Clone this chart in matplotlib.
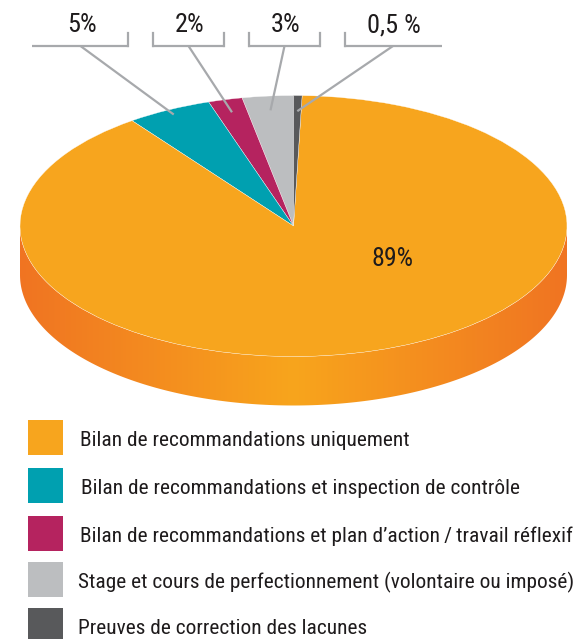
import matplotlib
matplotlib.use("Agg")
import numpy as np
import matplotlib.pyplot as plt
from matplotlib import font_manager
from matplotlib.patches import Wedge, Polygon, Rectangle
from matplotlib.transforms import Affine2D
from matplotlib.colors import to_rgb

# ---------------- data ----------------
categories = [
    "Bilan de recommandations uniquement",
    "Bilan de recommandations et inspection de contrôle",
    "Bilan de recommandations et plan d\u2019action\u2009/\u2009travail réflexif",
    "Stage et cours de perfectionnement (volontaire ou imposé)",
    "Preuves de correction des lacunes",
]
values = [89, 5, 2, 3, 0.5]
value_labels = ["89%", "5%", "2%", "3%", "0,5 %"]
colors = ["#F7A51E", "#00A0B0", "#B5235F", "#BCBEC0", "#58595B"]
# slices laid counter-clockwise starting at 12 o'clock
ccw_order = [3, 2, 1, 0, 4]

# ---------------- fonts (prefer a condensed sans) ----------------
entries = font_manager.fontManager.ttflist
names = {f.name for f in entries}
STRETCH = "normal"
FAM = None
for cand in ["Liberation Sans Narrow", "Roboto Condensed", "Open Sans Condensed",
             "DejaVu Sans Condensed", "Noto Sans Condensed", "Arial Narrow"]:
    if cand in names:
        FAM = cand
        break
if FAM is None:
    for f in entries:
        st = str(f.stretch).lower()
        if f.name in ("DejaVu Sans", "Noto Sans", "Open Sans", "Roboto") and (
                "condensed" in st or st in ("75", "87.5", "62.5")) and f.weight in (400, "normal", "regular"):
            FAM = f.name
            STRETCH = "condensed"
            break
if FAM is None:
    FAM = "Liberation Sans"
plt.rcParams["font.family"] = [FAM, "DejaVu Sans"]
plt.rcParams["font.stretch"] = STRETCH
TXT = "#1E1B1C"
LINE = "#A7A9AC"

# ---------------- layout ----------------
W, H = 579, 639
cx, cy, rx, ry, depth = 293.5, 226.0, 273.5, 130.5, 49.0

fig = plt.figure(figsize=(W / 100, H / 100), dpi=100)
ax = fig.add_axes([0, 0, 1, 1])
ax.set_xlim(0, W)
ax.set_ylim(H, 0)
ax.axis("off")
renderer = fig.canvas.get_renderer()

def fit(txt, target_w, max_size):
    w = txt.get_window_extent(renderer).width
    size = txt.get_fontsize() * target_w / w
    txt.set_fontsize(min(size, max_size))
    return txt.get_fontsize()

unit = Affine2D().scale(rx, -ry).translate(cx, cy) + ax.transData

def ell(t, r=1.0, dz=0.0):
    t = np.radians(t)
    return cx + r * rx * np.cos(t), cy - r * ry * np.sin(t) + dz

# side band (front half) with horizontal gradient
t = np.linspace(180, 360, 200)
xs_top, ys_top = ell(t)
xs_bot, ys_bot = ell(t[::-1], dz=depth)
side = Polygon(np.column_stack([np.r_[xs_top, xs_bot], np.r_[ys_top, ys_bot]]),
               closed=True, facecolor="none", edgecolor="none")
ax.add_patch(side)
light = np.array(to_rgb("#F8A51C"))
dark = np.array(to_rgb("#F07422"))
gx = np.linspace(-1, 1, 400)
u = np.abs(gx)
grad = light[None, :] * (1 - u[:, None]) + dark[None, :] * u[:, None]
img = ax.imshow(grad[None, :, :], extent=[cx - rx, cx + rx, cy + depth + ry + 2, cy - 2],
                aspect="auto", interpolation="bilinear", zorder=1)
img.set_clip_path(side)

# top face wedges
total = sum(values)
start = 90.0
mid_angles = {}
for idx in ccw_order:
    span = values[idx] / total * 360.0
    w = Wedge((0, 0), 1.0, start, start + span, facecolor=colors[idx],
              edgecolor="white", linewidth=0.25, transform=unit, zorder=2)
    ax.add_patch(w)
    mid_angles[idx] = start + span / 2
    start += span

# callouts
bracket_x = {1: (32, 129), 2: (152, 225), 3: (248, 321), 4: (344, 442)}
left_tick = {1: False, 2: True, 3: True, 4: True}
right_tick = {1: True, 2: True, 3: True, 4: False}
anchor_r = {1: 0.96, 2: 0.9, 3: 0.89, 4: 0.88}
by, tick_top = 46.0, 33.0
label_texts = []
for idx in [1, 2, 3, 4]:
    x0, x1 = bracket_x[idx]
    xm = (x0 + x1) / 2
    ax.plot([x0, x1], [by, by], color=LINE, lw=1.6, solid_capstyle="butt", zorder=3)
    if left_tick[idx]:
        ax.plot([x0 + 0.8, x0 + 0.8], [tick_top, by], color=LINE, lw=1.6, zorder=3)
    if right_tick[idx]:
        ax.plot([x1 - 0.8, x1 - 0.8], [tick_top, by], color=LINE, lw=1.6, zorder=3)
    px, py = ell(mid_angles[idx], r=anchor_r[idx])
    ax.plot([xm, px], [by, py], color=LINE, lw=1.6, solid_capstyle="butt", zorder=3)
    label_texts.append(ax.text(xm + 1, 25.5, value_labels[idx], ha="center", va="center",
                               fontsize=16, color=TXT, zorder=4))
s = fit(label_texts[-1], 54, 20)
for tx in label_texts:
    tx.set_fontsize(s)

big = ax.text(392.5, 259.5, value_labels[0], ha="center", va="center",
              fontsize=17.5, color=TXT, zorder=4)
fit(big, 42, 21)

# legend
box_top = [420, 468, 516, 562, 608]
text_x = [80, 81, 80, 78, 78]
leg_texts = []
for i, cat in enumerate(categories):
    ax.add_patch(Rectangle((28, box_top[i]), 35, 35, facecolor=colors[i],
                           edgecolor="none", zorder=2))
    leg_texts.append(ax.text(text_x[i], box_top[i] + 17.5 + 8.5, cat, ha="left",
                             va="baseline", fontsize=14.8, color=TXT, zorder=4))
ls = fit(leg_texts[3], 497, 17)
for tx in leg_texts:
    tx.set_fontsize(ls)

fig.savefig("out.png", dpi=100, facecolor="white")
